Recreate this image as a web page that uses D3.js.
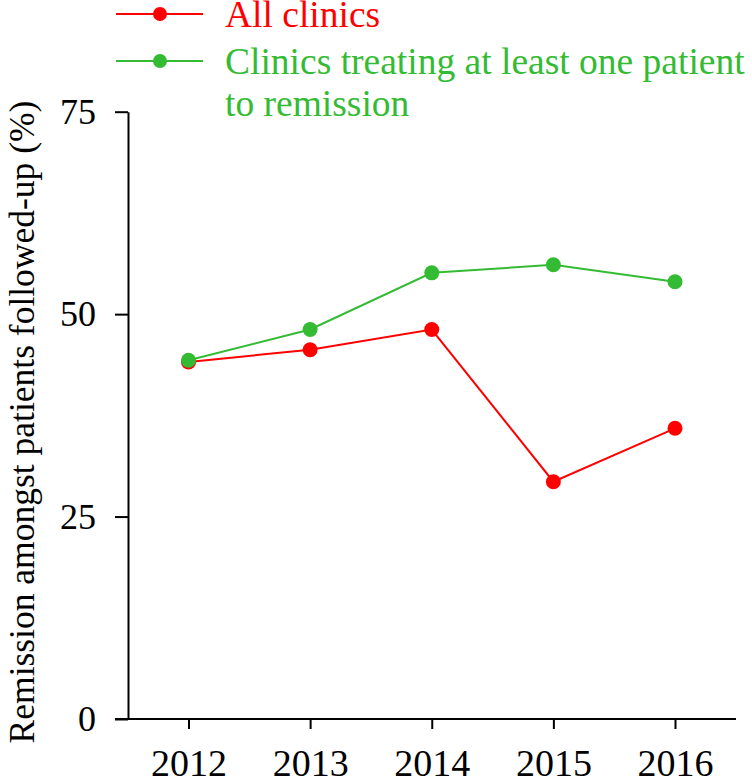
<!DOCTYPE html>
<html><head><meta charset="utf-8">
<script src="https://cdn.jsdelivr.net/npm/d3@7"></script>
</head><body style="margin:0"><svg id="c" width="752" height="782" style="display:block;background:#fff"></svg>
<script>
const years = [2012, 2013, 2014, 2015, 2016];
const allClinics = [44.1, 45.6, 48.1, 29.3, 35.9];
const treatingClinics = [44.3, 48.1, 55.1, 56.1, 54.0];
const yTicks = [0, 25, 50, 75];
const seriesNames = ["All clinics", "Clinics treating at least one patient", "to remission"];
const colors = ["#ff0000", "#33bb33"];
const FONT = "'Liberation Serif'";

const svg = d3.select("#c");
const x = d3.scaleLinear().domain([2012, 2016]).range([188.5, 675]);
const y = d3.scaleLinear().domain([0, 75]).range([719, 111.7]);

// Y axis
const ya = svg.append("g").attr("transform", "translate(128,0)")
  .call(d3.axisLeft(y).tickValues(yTicks).tickSize(13).tickPadding(19).tickSizeOuter(0));
ya.attr("font-family", null).attr("font-size", null);
ya.select(".domain").attr("stroke", "#000").attr("stroke-width", 2);
ya.selectAll(".tick line").attr("stroke-width", 2);
ya.selectAll(".tick text").style("font-size", "36px").attr("fill", "#000").style("font-family", FONT);

// X axis
const xa = svg.append("g").attr("transform", "translate(0,719)")
  .call(d3.axisBottom(x).tickValues(years).tickFormat(d3.format("d")).tickSize(10).tickPadding(0).tickSizeOuter(0));
xa.attr("font-family", null).attr("font-size", null);
xa.select(".domain").remove();
xa.append("line").attr("x1", 115).attr("x2", 736).attr("stroke", "#000").attr("stroke-width", 2);
xa.selectAll(".tick line").attr("stroke-width", 2);
xa.selectAll(".tick text").attr("y", 57).attr("dy", null).style("font-size", "38px")
  .attr("fill", "#000").style("font-family", FONT);

// Y title
svg.append("text").attr("transform", "translate(34,422) rotate(-90)")
  .attr("text-anchor", "middle").style("font-size", "35.5px").style("font-family", FONT)
  .text("Remission amongst patients followed-up (%)");

// Lines
const line = d3.line().x((d, i) => x(years[i])).y(d => y(d));
[treatingClinics, allClinics].forEach((s, k) => {
  const c = k === 0 ? colors[1] : colors[0];
  svg.append("path").attr("d", line(s)).attr("fill", "none").attr("stroke", c).attr("stroke-width", 2);
});
[allClinics, treatingClinics].forEach((s, k) => {
  svg.append("g").selectAll("circle").data(s).join("circle")
    .attr("cx", (d, i) => x(years[i])).attr("cy", d => y(d)).attr("r", 7.5).attr("fill", colors[k]);
});

// Legend
const leg = [{y: 14, c: colors[0], t: [seriesNames[0]]}, {y: 61, c: colors[1], t: [seriesNames[1], seriesNames[2]]}];
leg.forEach(l => {
  svg.append("line").attr("x1", 116).attr("x2", 203).attr("y1", l.y).attr("y2", l.y).attr("stroke", l.c).attr("stroke-width", 2);
  svg.append("circle").attr("cx", 160).attr("cy", l.y).attr("r", 7).attr("fill", l.c);
  l.t.forEach((t, j) => {
    svg.append("text").attr("x", 225).attr("y", l.y + 13 + j * 42).style("font-size", "37.5px")
      .style("font-family", FONT).attr("fill", l.c).text(t);
  });
});
</script></body></html>
